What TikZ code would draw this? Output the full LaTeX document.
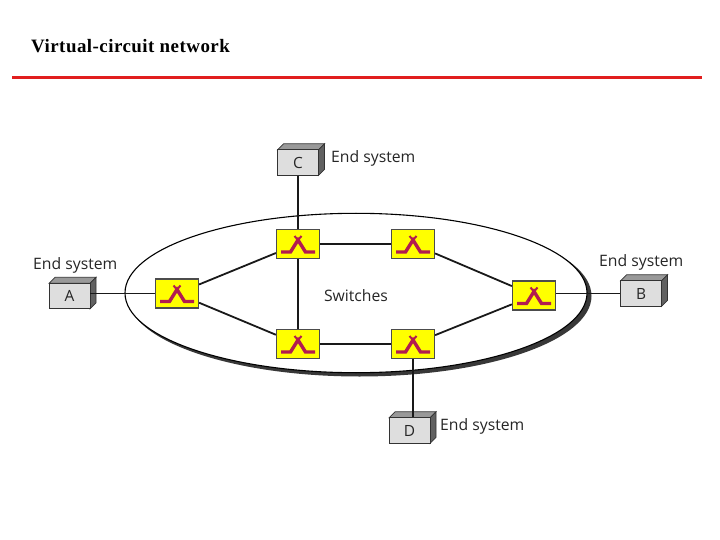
\documentclass[tikz,border=0pt]{standalone}
\usepackage{fontspec}
\setmainfont{Liberation Serif}
\newfontfamily\lab{Open Sans}
\newfontfamily\ttl[LetterSpace=2.5]{Liberation Serif}
\definecolor{swy}{RGB}{255,255,0}
\definecolor{crim}{RGB}{178,28,80}
\tikzset{
  x=1bp,y=-1bp,
  swbox/.style={draw=black!70,line width=1.2bp,fill=swy,minimum width=43bp,minimum height=29bp,inner sep=0pt},
  frontbox/.style={draw=black!80,line width=0.9bp,fill=black!13,minimum width=41bp,minimum height=25.5bp,inner sep=0pt,font=\lab\fontsize{15.5}{15.5}\selectfont,text=black!85},
  link/.style={draw=black!90,line width=1.4bp},
  slant/.style={draw=black!90,line width=1.8bp},
  lbl/.style={font=\lab\fontsize{15.8}{15.8}\selectfont,text=black!85,inner sep=0pt},
  sym/.style={draw=crim,line width=3.4bp,line join=miter},
}
\newcommand{\swsym}[1]{%
  \draw[sym] ([shift={(-17,8)}]#1.center) -- ([shift={(-7.5,8)}]#1.center) -- ([shift={(0,-4)}]#1.center) -- ([shift={(7.5,8)}]#1.center) -- ([shift={(17,8)}]#1.center);
  \draw[crim,line width=2bp] ([shift={(-3.5,-8)}]#1.center) -- ([shift={(2,-1.5)}]#1.center) ([shift={(3.5,-8)}]#1.center) -- ([shift={(-2,-1.5)}]#1.center);
}
\newcommand{\sysbox}[4]{%
  \fill[black!40,draw=black!80,line width=0.7bp] (#2-20.5,#3-12.7) -- (#2-14.5,#3-18.7) -- (#2+26.5,#3-18.7) -- (#2+20.5,#3-12.7) -- cycle;
  \fill[black!62,draw=black!80,line width=0.7bp] (#2+20.5,#3-12.7) -- (#2+26.5,#3-18.7) -- (#2+26.5,#3+6.8) -- (#2+20.5,#3+12.8) -- cycle;
  \node[frontbox] (#1) at (#2,#3) {#4};
}
\begin{document}
\begin{tikzpicture}
\useasboundingbox[fill=white] (0,0) rectangle (720,540);
\node[font=\ttl\bfseries\fontsize{19}{19}\selectfont,anchor=west,inner sep=0pt] (title) at (31,46) {Virtual-circuit network};
\coordinate (rl) at (12,78); \coordinate (rr) at (702,78);
\draw[line width=3bp,color={rgb,255:red,225;green,30;blue,30}] (rl) -- (rr);
% ellipse with shadow
\fill[black!78] (359.5,296) ellipse [x radius=232,y radius=80.5];
\draw[black,fill=white,line width=1.1bp] (356,293) ellipse [x radius=231,y radius=79.7];
% end systems
\sysbox{C}{298}{162.5}{C}
\sysbox{A}{69.5}{296}{A}
\sysbox{B}{641}{293.5}{B}
\sysbox{D}{409.5}{430.5}{D}
% switches
\node[swbox] (s1) at (177,293.5) {};
\node[swbox] (s2) at (298,244) {};
\node[swbox] (s3) at (413,244) {};
\node[swbox] (s4) at (298,344) {};
\node[swbox] (s5) at (413,344) {};
\node[swbox] (s6) at (534,295.5) {};
% links
\draw[link] (C) -- (s2);
\draw[link] (A.east |- s1.west) -- (s1.west);
\draw[link] (s6.east |- B.west) -- (B.west);
\draw[link] (s5.south) -- (s5.south |- D.north);
\draw[slant] (s1) -- (s2);
\draw[slant] (s1) -- (s4);
\draw[link] (s2) -- (s3);
\draw[link] (s4) -- (s5);
\draw[link] (s2) -- (s4);
\draw[slant] (s3) -- (s6);
\draw[slant] (s5) -- (s6);
\foreach \n in {s1,s2,s3,s4,s5,s6}{\node[swbox] at (\n) {}; \swsym{\n}}
\node[lbl,anchor=west] (lc) at (331,158) {End system};
\node[lbl,anchor=west] (la) at (33,265) {End system};
\node[lbl,anchor=west] (lb) at (599,262) {End system};
\node[lbl,anchor=west] (ld) at (440,426) {End system};
\node[lbl] (sw) at (356,296) {Switches};
\end{tikzpicture}
\end{document}
